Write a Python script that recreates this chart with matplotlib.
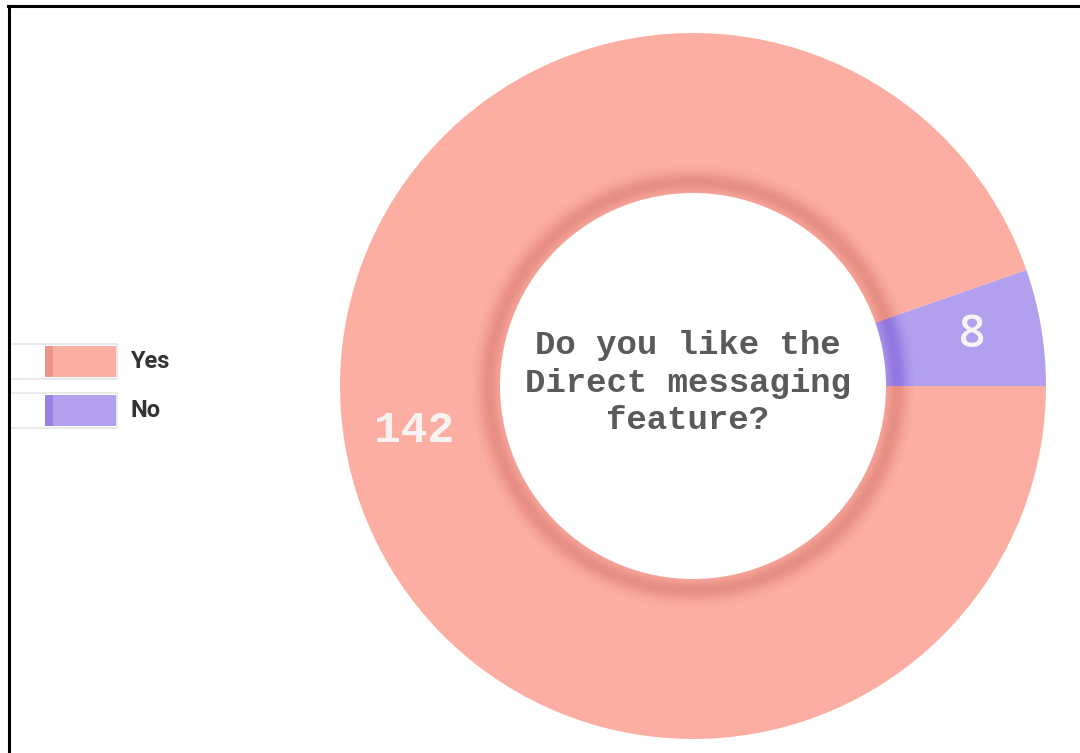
import numpy as np
import matplotlib.pyplot as plt
from matplotlib.colors import to_rgb
from matplotlib.patches import Wedge, Rectangle, Circle
from matplotlib.lines import Line2D

LABELS = ['No', 'Yes']
VALUES = [8, 142]
COLORS = ['#b2a0ee', '#fdaea3']
SHADES = ['#8a6ddc', '#e2877c']
LEGEND_ORDER = ['Yes', 'No']
QUESTION = 'Do you like the\nDirect messaging\nfeature?'

W, H = 1080, 753
fig = plt.figure(figsize=(W / 100, H / 100), dpi=100)
ax = fig.add_axes([0, 0, 1, 1])

cx, cy = 693, H - 386
r_out, r_in = 353, 193

wedges, _ = ax.pie(VALUES, colors=COLORS, startangle=0, counterclock=True,
                   radius=r_out, center=(cx, cy),
                   wedgeprops=dict(width=r_out - r_in, linewidth=0))
ax.set_xlim(0, W)
ax.set_ylim(0, H)
ax.set_aspect('equal')
ax.axis('off')

# soft darker band just outside the hole, painted outer to inner
n = 28
for w, base, shade in zip(wedges, COLORS, SHADES):
    b, s = np.array(to_rgb(base)), np.array(to_rgb(shade))
    for k in range(n, 0, -1):
        t = (k - 0.5) / n
        a = 0.8 * np.exp(-((t - 0.4) / 0.38) ** 2)
        ax.add_patch(Wedge((cx, cy), r_in + k, w.theta1, w.theta2, width=k,
                           facecolor=b * (1 - a) + s * a, edgecolor='none'))
ax.add_patch(Circle((cx, cy), r_in, facecolor='white', edgecolor='none'))

# value labels at the middle of each ring segment
label_fonts = {'No': dict(family='Open Sans', fontsize=33, fontweight='semibold'),
               'Yes': dict(family='Liberation Mono', fontsize=32, fontweight='bold')}
r_mid = (r_out + r_in + 20) / 2
for w, lab, val in zip(wedges, LABELS, VALUES):
    mid = np.deg2rad((w.theta1 + w.theta2) / 2)
    ax.text(cx + r_mid * np.cos(mid), cy + r_mid * np.sin(mid) + 3, str(val),
            color='#f7f3f2', ha='center', va='center', **label_fonts[lab])

ax.text(688, H - 383, QUESTION, ha='center', va='center', color='#5a5a5a',
        family='Liberation Mono', fontweight='bold', fontsize=24.5, linespacing=1.28)

# legend on the left
color_of = dict(zip(LABELS, COLORS))
shade_of = dict(zip(LABELS, SHADES))
for i, lab in enumerate(LEGEND_ORDER):
    top = 344 + i * 49
    ax.add_patch(Rectangle((10, H - top - 35), 107, 35, facecolor='white',
                           edgecolor='#e6e6e6', linewidth=1.2))
    ax.add_patch(Rectangle((45, H - top - 33), 71, 31, facecolor=color_of[lab],
                           edgecolor='none'))
    ax.add_patch(Rectangle((45, H - top - 33), 8, 31, facecolor=shade_of[lab],
                           edgecolor='none', alpha=0.6))
    ax.text(130, H - top - 17, lab, ha='left', va='center', color='#333333',
            family='Roboto', fontweight='bold', fontsize=17)

# frame lines along top and left
fig.add_artist(Line2D([8 / W, 1], [1 - 6 / H, 1 - 6 / H], color='black', lw=2.2))
fig.add_artist(Line2D([9 / W, 9 / W], [0, 1 - 6 / H], color='black', lw=2.2))

fig.savefig('out.png', dpi=100)
